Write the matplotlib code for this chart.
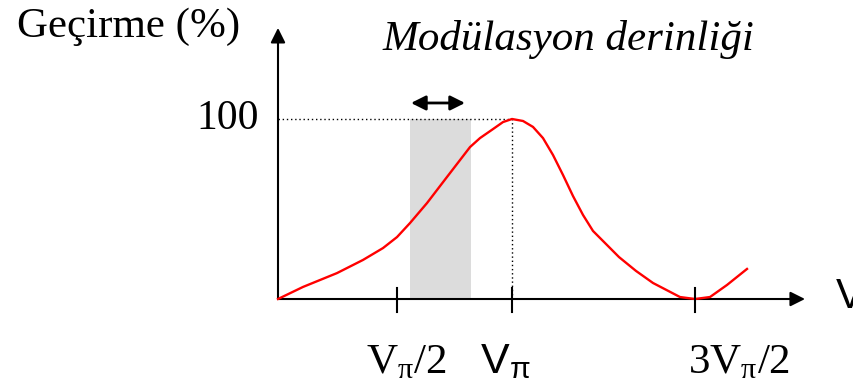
import matplotlib.pyplot as plt
from matplotlib.patches import Rectangle

plt.rcParams['mathtext.fontset'] = 'custom'
plt.rcParams['mathtext.rm'] = 'Liberation Serif'
plt.rcParams['mathtext.it'] = 'Liberation Serif:italic'
plt.rcParams['mathtext.sf'] = 'Liberation Sans'

# transmission curve (x in arbitrary units, y in %)
curve_x = [0, 25, 59, 85, 105, 119, 132, 149, 169, 192, 202, 215, 225, 234, 245, 255,
           265, 275, 285, 295, 305, 315, 329, 341, 358, 375, 402, 417, 432, 449, 469]
curve_y = [0, 6.7, 14.4, 21.7, 28.3, 34.4, 42.2, 53.3, 67.8, 84.4, 89.4, 94.4, 98.3, 100,
           98.9, 95.6, 89.4, 80, 68.9, 57.2, 46.7, 37.8, 30, 23.3, 15.6, 8.9, 1.1, 0, 1.1, 7.8, 16.7]

tick_pos = [119, 234, 417]
label_x = [128, 227, 461]
tick_labels = [r'V$_{\mathrm{π}}$/2', r'$\mathsf{V}_{\mathsf{π}}$', r'3V$_{\mathrm{π}}$/2']
tick_fonts = ['Liberation Serif', 'Liberation Sans', 'Liberation Serif']
peak_x, peak_y = 234, 100
band = (132, 193)   # modulation depth band
x_end, y_end = 527, 150.6

fig = plt.figure(figsize=(8.54, 3.88), dpi=100)
ax = fig.add_axes([0, 0, 1, 1])
ax.set_xlim(-278, 576)
ax.set_ylim(-49.44, 166.11)
ax.axis('off')

ax.add_patch(Rectangle((band[0], 0), band[1] - band[0], peak_y, color='#dcdcdc', lw=0, zorder=1))

# axes with arrows
ax.annotate('', xy=(x_end, 0), xytext=(0, 0),
            arrowprops=dict(arrowstyle='-|>', lw=1.5, color='k', mutation_scale=22, shrinkA=0, shrinkB=0))
ax.annotate('', xy=(0, y_end), xytext=(0, 0),
            arrowprops=dict(arrowstyle='-|>', lw=1.5, color='k', mutation_scale=22, shrinkA=0, shrinkB=0))

# dotted guides
ax.plot([0, peak_x], [peak_y, peak_y], color='k', lw=1, ls=(0, (1, 2)), zorder=2)
ax.plot([peak_x, peak_x], [0, peak_y], color='k', lw=1, ls=(0, (1, 2)), zorder=2)

ax.plot(curve_x, curve_y, color='red', lw=1.7, zorder=3, solid_joinstyle='round')

for xp in tick_pos:
    ax.plot([xp, xp], [-7, 6], color='k', lw=1.5, zorder=4)

# modulation depth double arrow
ax.annotate('', xy=(187, 108.9), xytext=(133, 108.9),
            arrowprops=dict(arrowstyle='<|-|>', lw=2, color='k', mutation_scale=22, shrinkA=0, shrinkB=0))

ax.text(-261, 151, 'Geçirme (%)', family='Liberation Serif', fontsize=31, ha='left', va='center')
ax.text(290, 144, 'Modülasyon derinliği', family='Liberation Serif', style='italic',
        fontsize=31, ha='center', va='center')
ax.text(-19, 100, '100', family='Liberation Serif', fontsize=30, ha='right', va='center')
for xp, lab, fam in zip(label_x, tick_labels, tick_fonts):
    ax.text(xp, -41, lab, family=fam, fontsize=31, ha='center', va='baseline')
ax.text(558, 1, 'V', family='Liberation Sans', fontsize=30, ha='left', va='center')

fig.savefig('out.png', dpi=100)
